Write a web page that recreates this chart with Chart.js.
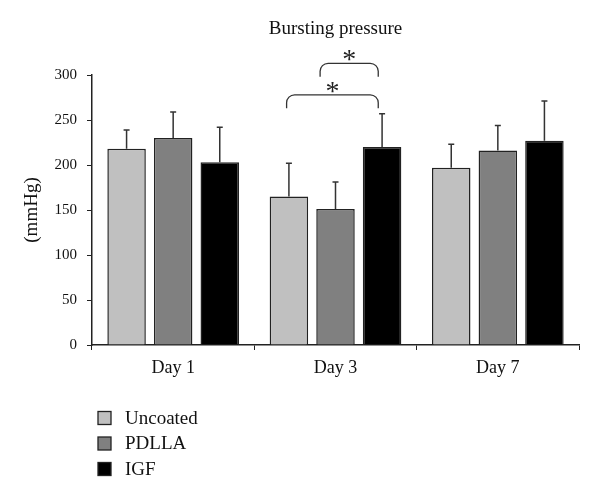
<!DOCTYPE html>
<html>
<head>
<meta charset="utf-8">
<script src="https://cdn.jsdelivr.net/npm/chart.js@4.4.1/dist/chart.umd.min.js"></script>
<style>
  html, body { margin: 0; padding: 0; background: #ffffff; }
  #wrap { width: 600px; height: 500px; }
</style>
</head>
<body>
<div id="wrap"><canvas id="c" width="600" height="500"></canvas></div>
<script>
// ---- data ----
const categories = ["Day 1", "Day 3", "Day 7"];
const seriesNames = ["Uncoated", "PDLLA", "IGF"];
const uncoated = [218, 165, 197];
const pdlla = [230, 151, 216];
const igf = [203, 220, 227];
const uncoatedErr = [21, 37, 26];
const pdllaErr = [29, 30, 28];
const igfErr = [39, 37, 44];
const yTicks = [0, 50, 100, 150, 200, 250, 300];
const titleText = "Bursting pressure";
const yTitle = "(mmHg)";
// significance brackets: category index, dataset a, dataset b, bracket level (mmHg)
const sigCategory = [1, 1];
const sigFrom = [0, 1];
const sigTo = [2, 2];
const sigLevel = [278, 313];
const sigLabel = ["*", "*"];

const colors = ["#c0c0c0", "#808080", "#000000"];
const errors = [uncoatedErr, pdllaErr, igfErr];
const serif = "'Liberation Serif', 'DejaVu Serif', serif";

const errorBarPlugin = {
  id: 'errorBars',
  afterDatasetsDraw(chart) {
    const ctx = chart.ctx;
    const y = chart.scales.y;
    ctx.save();
    ctx.strokeStyle = '#333';
    ctx.lineWidth = 1.5;
    chart.data.datasets.forEach((ds, di) => {
      const meta = chart.getDatasetMeta(di);
      meta.data.forEach((bar, i) => {
        const top = y.getPixelForValue(ds.data[i] + errors[di][i]);
        ctx.beginPath();
        ctx.moveTo(bar.x, bar.y);
        ctx.lineTo(bar.x, top);
        ctx.moveTo(bar.x - 3, top);
        ctx.lineTo(bar.x + 3, top);
        ctx.stroke();
      });
    });
    ctx.restore();
  }
};

const bracketPlugin = {
  id: 'brackets',
  afterDraw(chart) {
    const ctx = chart.ctx;
    const y = chart.scales.y;
    ctx.save();
    ctx.strokeStyle = '#333';
    ctx.lineWidth = 1.3;
    ctx.fillStyle = '#222';
    ctx.font = "28px " + serif;
    ctx.textAlign = 'center';
    ctx.textBaseline = 'alphabetic';
    for (let k = 0; k < sigLevel.length; k++) {
      const a = chart.getDatasetMeta(sigFrom[k]).data[sigCategory[k]];
      const b = chart.getDatasetMeta(sigTo[k]).data[sigCategory[k]];
      const x1 = k === 0 ? a.x - a.width * 0.06 : a.x - a.width * 0.4;
      const x2 = b.x - b.width * 0.1;
      const yt = y.getPixelForValue(sigLevel[k]);
      const ye = y.getPixelForValue(sigLevel[k] - 15);
      const r = 8;
      ctx.beginPath();
      ctx.moveTo(x1, ye);
      ctx.arcTo(x1, yt, x1 + r, yt, r);
      ctx.lineTo(x2 - r, yt);
      ctx.arcTo(x2, yt, x2, ye, r);
      ctx.lineTo(x2, ye);
      ctx.stroke();
      ctx.fillText(sigLabel[k], (x1 + x2) / 2, yt + 5);
    }
    ctx.restore();
  }
};

const legendPlugin = {
  id: 'customLegend',
  afterDraw(chart) {
    const ctx = chart.ctx;
    ctx.save();
    ctx.font = "19px " + serif;
    ctx.textBaseline = 'middle';
    ctx.textAlign = 'left';
    chart.data.datasets.forEach((ds, i) => {
      const cy = 418 + i * 25.5;
      ctx.fillStyle = ds.backgroundColor;
      ctx.fillRect(98, cy - 6.5, 13, 13);
      ctx.strokeStyle = '#222';
      ctx.lineWidth = 1.3;
      ctx.strokeRect(98, cy - 6.5, 13, 13);
      ctx.fillStyle = '#111';
      ctx.fillText(ds.label, 125, cy + 1);
    });
    ctx.restore();
  }
};

new Chart(document.getElementById('c'), {
  type: 'bar',
  data: {
    labels: categories,
    datasets: [
      { label: seriesNames[0], data: uncoated, backgroundColor: colors[0] },
      { label: seriesNames[1], data: pdlla, backgroundColor: colors[1] },
      { label: seriesNames[2], data: igf, backgroundColor: colors[2] }
    ].map(d => Object.assign(d, {
      borderColor: '#222', borderWidth: 1.5,
      categoryPercentage: 0.861, barPercentage: 0.826
    }))
  },
  options: {
    responsive: false,
    animation: false,
    events: [],
    layout: { padding: { left: 0, right: 21, top: 0, bottom: 115 } },
    plugins: {
      legend: { display: false },
      tooltip: { enabled: false },
      title: {
        display: true,
        text: titleText,
        fullSize: false,
        color: '#111',
        font: { family: serif, size: 19, weight: 'normal' },
        padding: { top: 17.6, bottom: 34.6 }
      }
    },
    scales: {
      x: {
        afterFit: s => { s.height = 40; },
        grid: { display: true, drawOnChartArea: false, drawTicks: true, tickLength: 5, color: '#222', offset: true },
        border: { display: true, color: '#222', width: 1.5 },
        ticks: { color: '#111', font: { family: serif, size: 18 }, padding: 7 }
      },
      y: {
        min: 0, max: 300,
        afterFit: s => { s.width = 92; },
        afterBuildTicks: s => { s.ticks = yTicks.map(v => ({ value: v })); },
        grid: { display: true, drawOnChartArea: false, drawTicks: true, tickLength: 5, color: '#222' },
        border: { display: true, color: '#222', width: 1.5 },
        ticks: { color: '#111', font: { family: serif, size: 15 }, padding: 10 },
        title: {
          display: true, text: yTitle, color: '#111',
          font: { family: serif, size: 19 },
          padding: { top: 20.6, bottom: 0 }
        }
      }
    }
  },
  plugins: [errorBarPlugin, bracketPlugin, legendPlugin]
});
</script>
</body>
</html>
